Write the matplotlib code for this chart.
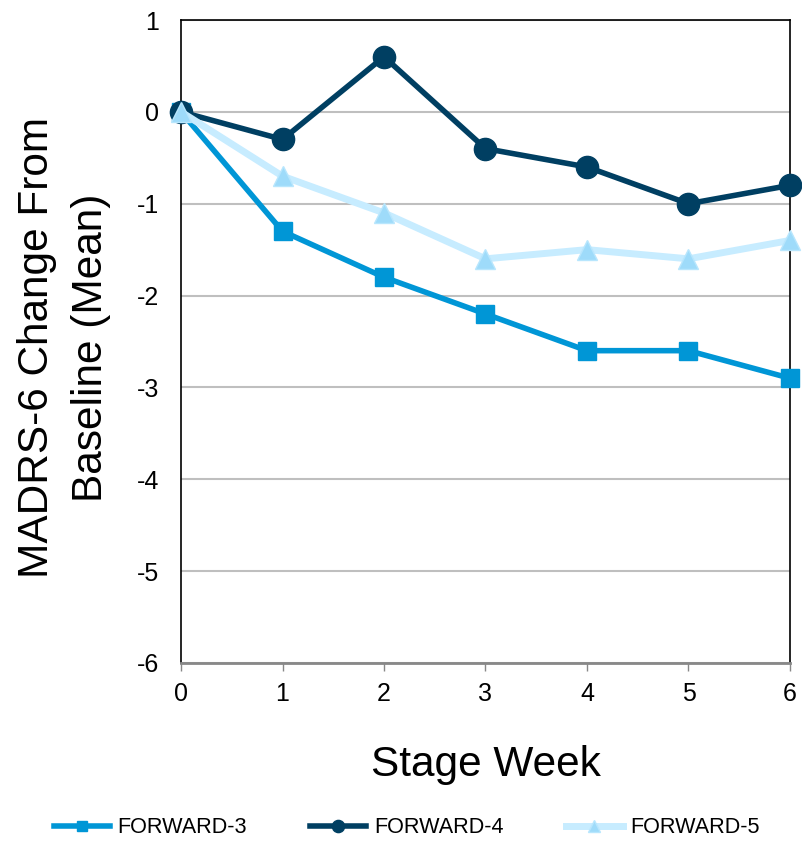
import matplotlib
matplotlib.use('Agg')
import matplotlib.pyplot as plt

plt.rcParams['font.family'] = ['Liberation Sans', 'DejaVu Sans']
plt.rcParams['axes.unicode_minus'] = False

weeks = [0, 1, 2, 3, 4, 5, 6]
forward3 = [0, -1.3, -1.8, -2.2, -2.6, -2.6, -2.9]
forward4 = [0, -0.3, 0.6, -0.4, -0.6, -1.0, -0.8]
forward5 = [0, -0.7, -1.1, -1.6, -1.5, -1.6, -1.4]

fig = plt.figure(figsize=(8.02, 8.41), dpi=100)
ax = fig.add_axes([0.2257, 0.2117, 0.7593, 0.7645])

ax.plot(weeks, forward3, color='#0096D6', lw=4, marker='s', ms=13,
        label='FORWARD-3', zorder=3, clip_on=False)
ax.plot(weeks, forward4, color='#003F62', lw=4, marker='o', ms=16,
        label='FORWARD-4', zorder=4, clip_on=False)
ax.plot(weeks, forward5, color='#C7ECFF', lw=5, marker='^', ms=15,
        markerfacecolor='#9EDBFA', markeredgecolor='#B8E6FD',
        label='FORWARD-5', zorder=5, clip_on=False)

ax.set_xlim(0, 6)
ax.set_ylim(-6, 1)
ax.set_xticks(weeks)
ax.set_yticks(range(-6, 2))
ax.grid(axis='y', color='#BFBFBF', lw=1.5)
ax.set_axisbelow(True)

for s in ['left', 'right', 'top']:
    ax.spines[s].set_color('black')
    ax.spines[s].set_linewidth(1.2)
ax.spines['bottom'].set_color('#888888')
ax.spines['bottom'].set_linewidth(2)

ax.tick_params(axis='x', length=6, width=1, color='#888888',
               labelsize=18, pad=8)
ax.tick_params(axis='y', length=0, labelsize=18, pad=16)

ax.set_xlabel('Stage Week', fontsize=30.5, labelpad=28)
ax.set_ylabel('MADRS-6 Change From\nBaseline (Mean)', fontsize=30.5,
              linespacing=1.45)
ax.yaxis.set_label_coords(-0.115, 0.49)

fig.legend(loc='lower center', bbox_to_anchor=(0.507, -0.02), ncol=3,
           frameon=False, fontsize=15.6, handlelength=2.6, columnspacing=2.9,
           handletextpad=0.35, markerscale=0.55)

fig.savefig('out.png', dpi=100)
